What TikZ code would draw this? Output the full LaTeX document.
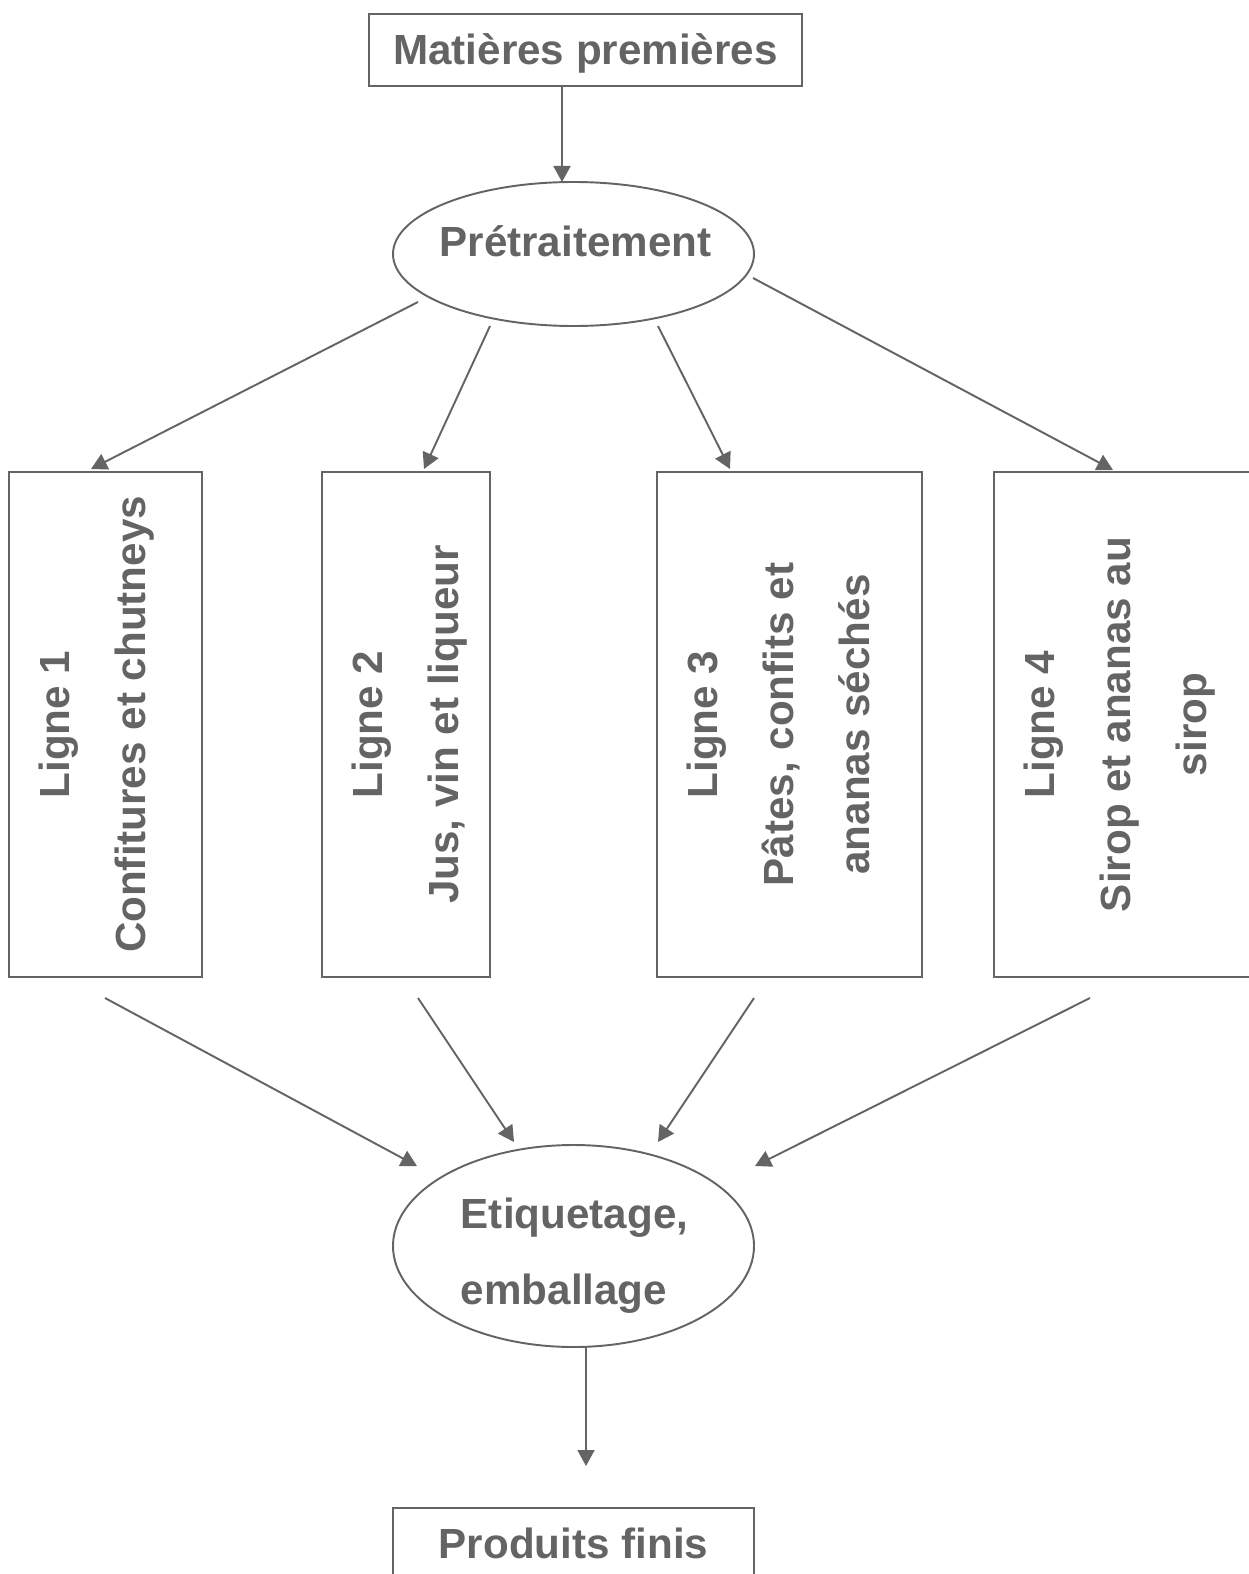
\documentclass[tikz,border=0pt]{standalone}
\usepackage{fontspec}
\setmainfont{Liberation Sans}
\usetikzlibrary{arrows.meta,shapes}
\definecolor{ink}{RGB}{100,100,100}

\begin{document}
\begin{tikzpicture}[x=0.2mm,y=-0.2mm]
\tikzstyle{main}=[draw=ink, line width=1.1pt, outer sep=0pt, inner sep=0pt]
\tikzstyle{rect}=[main, rectangle, text=ink, font=\bfseries\fontsize{24}{43}\selectfont, text height=22.8pt, text depth=6pt]
\tikzstyle{oval}=[main, ellipse, minimum width=7.22cm]
\tikzstyle{txt}=[inner sep=0pt, text=ink, font=\bfseries\fontsize{24}{43}\selectfont]
\tikzstyle{vtxt}=[txt, rotate=90, anchor=north, align=center]
\tikzstyle{connect}=[-{Triangle[length=0.32cm,width=0.34cm]}, draw=ink, line width=1.1pt]

\useasboundingbox (0,0) rectangle (1249,1574);

  % top and bottom of the chain
  \node[rect, minimum width=8.66cm, minimum height=1.44cm] (mat) at (585.5,50) {Matières premières};
  \node[oval, minimum height=2.88cm] (pre) at (573.5,254) {};
  \node[txt, anchor=base] (pretxt) at (575.5,257) {Prétraitement};

  \node[oval, minimum height=4.04cm] (etq) at (573.5,1246) {};
  \node[txt, anchor=north west, align=left] (etqtxt) at (460.5,1198) {Etiquetage,\\emballage};
  \node[rect, minimum width=7.22cm, minimum height=1.44cm] (prod) at (573.5,1544) {Produits finis};

  % the four lines
  \node[rect, minimum width=3.86cm, minimum height=10.1cm] (l1) at (105.5,724.5) {};
  \node[rect, minimum width=3.36cm, minimum height=10.1cm] (l2) at (406,724.5)   {};
  \node[rect, minimum width=5.3cm,  minimum height=10.1cm] (l3) at (789.5,724.5) {};
  \node[rect, minimum width=5.44cm, minimum height=10.1cm] (l4) at (1130,724.5)  {};

  \node[vtxt] (l1txt) at ([xshift=0.6cm]l1.west) {Ligne 1\\Confitures et chutneys};
  \node[vtxt] (l2txt) at ([xshift=0.6cm]l2.west) {Ligne 2\\Jus, vin et liqueur};
  \node[vtxt] (l3txt) at ([xshift=0.6cm]l3.west) {Ligne 3\\Pâtes, confits et\\ananas séchés};
  \node[vtxt] (l4txt) at ([xshift=0.6cm]l4.west) {Ligne 4\\Sirop et ananas au\\sirop};

  % arrow ends
  \coordinate (axis1) at (562,0);
  \coordinate (axis2) at (586,0);
  \coordinate (pre-1) at (418,302);  \coordinate (top-1) at (91,469);
  \coordinate (pre-2) at (490,326);  \coordinate (top-2) at (424,469);
  \coordinate (pre-3) at (658,326);  \coordinate (top-3) at (730,469);
  \coordinate (pre-4) at (753,278);  \coordinate (top-4) at (1113,470);
  \coordinate (bot-1) at (105,998);  \coordinate (etq-1) at (417,1166);
  \coordinate (bot-2) at (418,998);  \coordinate (etq-2) at (514,1142);
  \coordinate (bot-3) at (754,998);  \coordinate (etq-3) at (658,1142);
  \coordinate (bot-4) at (1090,998); \coordinate (etq-4) at (755,1166);

  \draw[connect] (mat.south -| axis1) -- (pre.north -| axis1);
  \foreach \i in {1,...,4} {
    \draw[connect] (pre-\i) -- (top-\i);
    \draw[connect] (bot-\i) -- (etq-\i);
  }
  \draw[connect] (etq.south -| axis2) -- ([yshift=0.84cm]prod.north -| axis2);

\end{tikzpicture}
\end{document}
